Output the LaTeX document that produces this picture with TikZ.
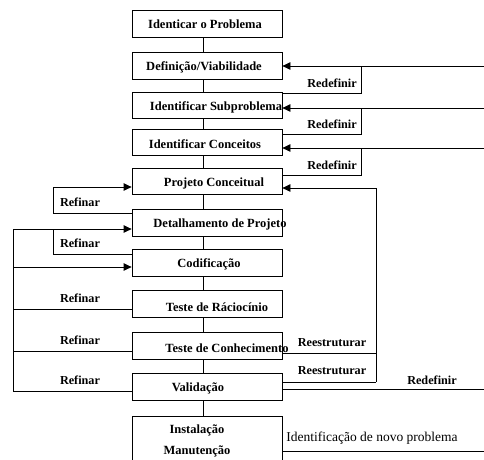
\documentclass[tikz,border=0pt]{standalone}
\usepackage{fontspec}
\setmainfont{Liberation Serif}
\usetikzlibrary{arrows.meta}
\tikzset{
  box/.style={draw, line width=0.8pt, minimum width=150pt, inner sep=0pt},
  btxt/.style={inner sep=0pt, font=\fontsize{12.5}{14}\selectfont\bfseries},
  lbl/.style={inner sep=0pt, font=\fontsize{12.2}{14}\selectfont\bfseries},
  line/.style={line width=0.8pt},
  arr/.style={line width=0.8pt, -{Triangle[length=8pt,width=7.5pt]}}
}
\begin{document}
\begin{tikzpicture}[x=1pt,y=-1pt]
\clip (0,0) rectangle (484,459);
\fill[white] (0,0) rectangle (484,459);
% boxes
\node[box, minimum height=27pt] (b1) at (207,23.5) {};
\node[box, minimum height=27pt] (b2) at (207,65.5) {};
\node[box, minimum height=26pt] (b3) at (207,105) {};
\node[box, minimum height=26pt] (b4) at (207,142) {};
\node[box, minimum height=26pt] (b5) at (207,181) {};
\node[box, minimum height=27pt] (b6) at (207,222.5) {};
\node[box, minimum height=27pt] (b7) at (207,262.5) {};
\node[box, minimum height=27pt] (b8) at (207,303.5) {};
\node[box, minimum height=27pt] (b9) at (207,345.5) {};
\node[box, minimum height=27pt] (b10) at (207,386.5) {};
\node[box, minimum height=56pt] (b11) at (207,444) {};
% box texts
\node[btxt] (t1) at (205,24) {Identicar o Problema};
\node[btxt] (t2) at (204,67) {Definição/Viabilidade};
\node[btxt] (t3) at (216,107) {Identificar Subproblema};
\node[btxt] (t4) at (205,144) {Identificar Conceitos};
\node[btxt] (t5) at (214,183) {Projeto Conceitual};
\node[btxt] (t6) at (220,224) {Detalhamento de Projeto};
\node[btxt] (t7) at (209,264) {Codificação};
\node[btxt] (t8) at (217,307) {Teste de Ráciocínio};
\node[btxt] (t9) at (227,348) {Teste de Conhecimento};
\node[btxt] (t10) at (198,388) {Validação};
\node[btxt] (t11) at (197,430) {Instalação};
\node[btxt] (t12) at (197,451) {Manutenção};
% spine
\coordinate (sp) at (203,0);
\foreach \a/\b in {b1/b2,b2/b3,b3/b4,b4/b5,b5/b6,b6/b7,b7/b8,b8/b9,b9/b10,b10/b11}
  \draw[line] (\a.south -| sp) -- (\b.north -| sp);
% right: Redefinir loops
\coordinate (r1) at (484,66);
\coordinate (r2) at (484,108);
\coordinate (r3) at (484,148);
\coordinate (k1) at (361,93);
\coordinate (k2) at (361,134);
\coordinate (k3) at (361,175);
\draw[arr] (r1) -- (b2.east |- r1);
\draw[arr] (r2) -- (b3.east |- r2);
\draw[arr] (r3) -- (b4.east |- r3);
\draw[line] (b3.east |- k1) -- (k1) -- (k1 |- r1);
\draw[line] (b4.east |- k2) -- (k2) -- (k2 |- r2);
\draw[line] (b5.east |- k3) -- (k3) -- (k3 |- r3);
\node[lbl] (rd1) at (332,83) {Redefinir};
\node[lbl] (rd2) at (332,124) {Redefinir};
\node[lbl] (rd3) at (332,165) {Redefinir};
% right: Reestruturar
\coordinate (s0) at (376,188);
\coordinate (s1) at (376,353);
\coordinate (s2) at (376,382);
\draw[arr] (s2) -- (s0) -- (b5.east |- s0);
\draw[line] (b9.east |- s1) -- (s1);
\draw[line] (b10.east |- s2) -- (s2);
\node[lbl] (re1) at (332,343) {Reestruturar};
\node[lbl] (re2) at (332,371) {Reestruturar};
% right: Redefinir bottom and new problem
\coordinate (r4) at (484,389);
\coordinate (r5) at (484,451);
\draw[line] (b10.east |- r4) -- (r4);
\draw[line] (b11.east |- r5) -- (r5);
\node[lbl] (rd4) at (432,380) {Redefinir};
\node[inner sep=0pt, font=\fontsize{13.5}{15}\selectfont] (np) at (372,438) {Identificação de novo problema};
% left: Refinar loops
\coordinate (l1) at (53,187);
\coordinate (l1b) at (53,213);
\draw[arr] (b6.west |- l1b) -- (l1b) -- (l1) -- (b5.west |- l1);
\coordinate (m0) at (13,229);
\coordinate (l2) at (53,229);
\coordinate (l2b) at (53,254);
\draw[arr] (m0) -- (b6.west |- m0);
\draw[line] (b7.west |- l2b) -- (l2b) -- (l2);
\coordinate (m1) at (13,267);
\draw[arr] (m1) -- (b7.west |- m1);
\coordinate (m2) at (13,309);
\coordinate (m3) at (13,351);
\coordinate (m4) at (13,391);
\draw[line] (m0) -- (m4);
\draw[line] (b8.west |- m2) -- (m2);
\draw[line] (b9.west |- m3) -- (m3);
\draw[line] (b10.west |- m4) -- (m4);
\node[lbl] (rf1) at (80,202) {Refinar};
\node[lbl] (rf2) at (80,243) {Refinar};
\node[lbl] (rf3) at (80,298) {Refinar};
\node[lbl] (rf4) at (80,340) {Refinar};
\node[lbl] (rf5) at (80,380) {Refinar};
\end{tikzpicture}
\end{document}
